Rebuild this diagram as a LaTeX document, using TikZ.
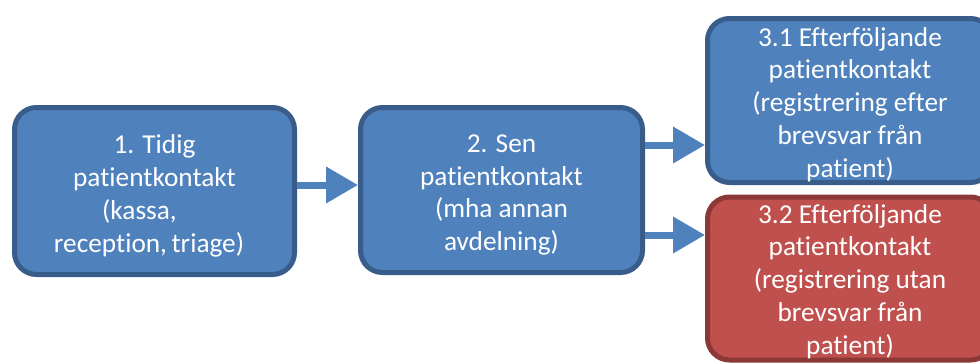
\documentclass[tikz,border=0pt]{standalone}
\usepackage{fontspec}
\setmainfont{Carlito}[Ligatures={NoCommon}]
\usetikzlibrary{arrows.meta}
\definecolor{bfill}{HTML}{4F81BD}
\definecolor{bline}{HTML}{385D8A}
\definecolor{rfill}{HTML}{C0504D}
\definecolor{rline}{HTML}{8C3836}
\tikzset{
  box/.style={draw=bline, fill=bfill, line width=5pt, rounded corners=22pt,
    inner sep=0pt},
  redbox/.style={box, draw=rline, fill=rfill},
  txt/.style={text=white, align=center, inner sep=0pt,
    font=\fontsize{27.3}{32.8}\selectfont},
  arr/.style={draw=bfill, line width=7pt,
    -{Triangle[length=32pt,width=35pt]}}
}
\begin{document}
\begin{tikzpicture}[x=1pt,y=-1pt]
\useasboundingbox (0,0) rectangle (980,362);
\clip (0,0) rectangle (980,362);
\node[box, minimum width=280pt, minimum height=167pt] (b1) at (154.5,191) {};
\node[box, minimum width=282pt, minimum height=165pt] (b2) at (501.5,190) {};
\node[box, minimum width=285pt, minimum height=164pt] (b31) at (850,100.5) {};
\node[redbox, minimum width=285pt, minimum height=163pt] (b32) at (850,278.5) {};
\node[txt] (t1) at ([yshift=-5pt]b1.center)
  {1. Tidig\\patientkontakt\\(kassa,\rule{1.1em}{0pt}\\reception,\,triage)\rule{0.4em}{0pt}};
\node[txt] (t2) at ([yshift=-5pt]b2.center)
  {2. Sen\\patientkontakt\\(mha annan\\avdelning)};
\node[txt] (t31) at ([yshift=-4pt]b31.center)
  {3.1 Efterföljande\\patientkontakt\\(registrering efter\\brevsvar från\\patient)};
\node[txt] (t32) at ([yshift=-3pt]b32.center)
  {3.2 Efterföljande\\patientkontakt\\(registrering utan\\brevsvar från\\patient)};
\draw[arr] (b1.east |- 0,185) -- (b2.west |- 0,185);
\draw[arr] (b2.east |- 0,145) -- (b31.west |- 0,145);
\draw[arr] (b2.east |- 0,235) -- (b32.west |- 0,235);
\end{tikzpicture}
\end{document}
